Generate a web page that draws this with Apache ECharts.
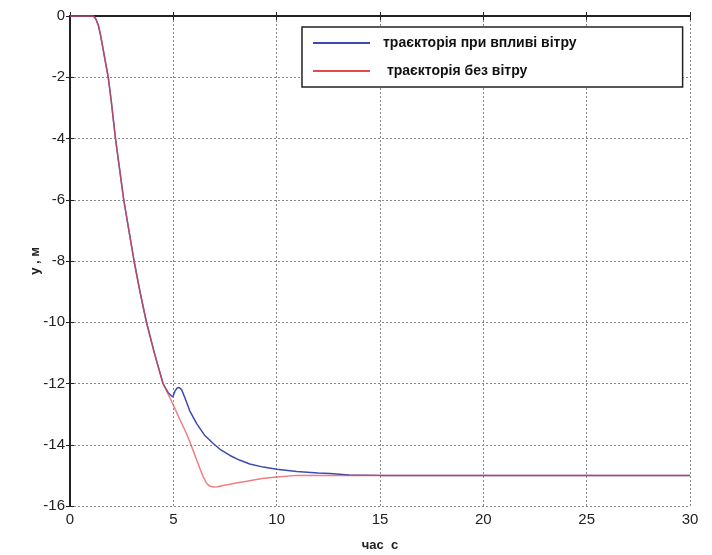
<!DOCTYPE html>
<html>
<head>
<meta charset="utf-8">
<script src="https://cdn.jsdelivr.net/npm/echarts@6/dist/echarts.min.js"></script>
<style>
    html, body { margin: 0; padding: 0; background: #fff; }
    #chart { width: 712px; height: 555px; }
</style>
</head>
<body>
<div id="chart"></div>
<script>
    // траєкторія при впливі вітру
    var windTime = [0, 1.0, 1.13, 1.25, 1.37, 1.47, 1.58, 1.7, 1.85, 2.0, 2.2, 2.4, 2.6, 2.85, 3.1, 3.4, 3.7, 4.1, 4.5, 4.75, 4.97, 5.08, 5.18, 5.28, 5.4, 5.55, 5.8, 6.13, 6.5, 6.93, 7.3, 7.74, 8.2, 8.7, 9.35, 10.0, 10.97, 12.0, 12.58, 13.5, 15, 20, 25, 30];
    var windY = [0, 0, 0, -0.1, -0.3, -0.6, -1.0, -1.45, -2, -2.8, -4, -5.0, -6, -7.0, -8, -9.05, -10, -11.05, -12, -12.3, -12.44, -12.25, -12.15, -12.13, -12.2, -12.45, -12.9, -13.31, -13.68, -13.96, -14.17, -14.35, -14.5, -14.63, -14.73, -14.8, -14.87, -14.92, -14.94, -14.99, -15, -15, -15, -15];
    // траєкторія без вітру
    var calmTime = [0, 1.0, 1.13, 1.25, 1.37, 1.47, 1.58, 1.7, 1.85, 2.0, 2.2, 2.4, 2.6, 2.85, 3.1, 3.4, 3.7, 4.1, 4.5, 4.97, 5.3, 5.64, 5.9, 6.13, 6.3, 6.45, 6.6, 6.75, 6.93, 7.15, 7.4, 7.74, 8.1, 8.55, 9.3, 10.0, 10.97, 12, 15, 20, 25, 30];
    var calmY = [0, 0, 0, -0.1, -0.3, -0.6, -1.0, -1.45, -2, -2.8, -4, -5.0, -6, -7.0, -8, -9.05, -10, -11.05, -12, -12.66, -13.15, -13.64, -14.08, -14.5, -14.8, -15.05, -15.25, -15.35, -15.38, -15.37, -15.33, -15.29, -15.24, -15.19, -15.1, -15.05, -15.0, -15, -15, -15, -15, -15];
    var xTicks = [0, 5, 10, 15, 20, 25, 30];
    var yTicks = [-16, -14, -12, -10, -8, -6, -4, -2, 0];

    function pairs(t, v) {
        return t.map(function (x, i) { return [x, v[i]]; });
    }

    var font = "'Liberation Sans Narrow', 'Liberation Sans', Arial, sans-serif";
    var chart = echarts.init(document.getElementById('chart'));

    var gridLine = { show: true, lineStyle: { color: '#8a8a8a', type: [2, 2], width: 1 } };
    var frameLine = { show: true, lineStyle: { color: '#222', width: 2 } };
    var tick = { show: true, inside: true, length: 4, lineStyle: { color: '#222' } };

    var option = {
        animation: false,
        backgroundColor: '#fff',
        grid: { left: 70, right: 22, top: 16, bottom: 49, outerBoundsMode: 'none' },
        legend: {
            orient: 'vertical',
            left: 302,
            top: 27,
            padding: [9, 106, 9, 11],
            itemGap: 14,
            itemWidth: 57,
            itemHeight: 2,
            icon: 'rect',
            backgroundColor: '#fff',
            borderColor: '#222',
            borderWidth: 1.5,
            textStyle: { fontFamily: "'Liberation Sans', Arial, sans-serif", fontSize: 14, fontWeight: 'bold', color: '#111', padding: [0, 0, 0, 8] },
            data: ['траєкторія при впливі вітру', ' траєкторія без вітру']
        },
        xAxis: [{
            type: 'value',
            min: 0, max: 30, interval: 5,
            name: 'час  с',
            nameLocation: 'middle',
            nameGap: 33,
            nameMoveOverlap: false,
            nameTextStyle: { fontFamily: font, fontSize: 13, fontWeight: 'bold', color: '#222' },
            axisLine: frameLine,
            axisTick: tick,
            axisLabel: { fontFamily: font, fontSize: 15, color: '#222', margin: 6 },
            splitLine: gridLine
        }, {
            type: 'value',
            position: 'top',
            min: 0, max: 30, interval: 5,
            axisLine: frameLine,
            axisTick: tick,
            axisLabel: { show: false },
            splitLine: { show: false }
        }],
        yAxis: [{
            type: 'value',
            min: -16, max: 0, interval: 2,
            name: 'у , м',
            nameLocation: 'middle',
            nameGap: 28,
            nameMoveOverlap: false,
            nameRotate: 90,
            nameTextStyle: { fontFamily: font, fontSize: 13, fontWeight: 'bold', color: '#222' },
            axisLine: frameLine,
            axisTick: tick,
            axisLabel: { fontFamily: font, fontSize: 15, color: '#222', margin: 5 },
            splitLine: gridLine
        }, {
            type: 'value',
            position: 'right',
            min: -16, max: 0, interval: 2,
            axisLine: frameLine,
            axisTick: tick,
            axisLabel: { show: false },
            splitLine: { show: false }
        }],
        series: [{
            name: 'траєкторія при впливі вітру',
            type: 'line',
            data: pairs(windTime, windY),
            showSymbol: false,
            color: '#3d4bb0',
            lineStyle: { width: 1.5 }
        }, {
            name: ' траєкторія без вітру',
            type: 'line',
            data: pairs(calmTime, calmY),
            showSymbol: false,
            color: '#e8474c',
            lineStyle: { width: 1.5, opacity: 0.7 }
        }],
        graphic: [{
            type: 'circle',
            shape: { cx: 575, cy: 77, r: 2.5 },
            style: { fill: '#3d4bb0' }
        }]
    };

    chart.setOption(option);
</script>
</body>
</html>
